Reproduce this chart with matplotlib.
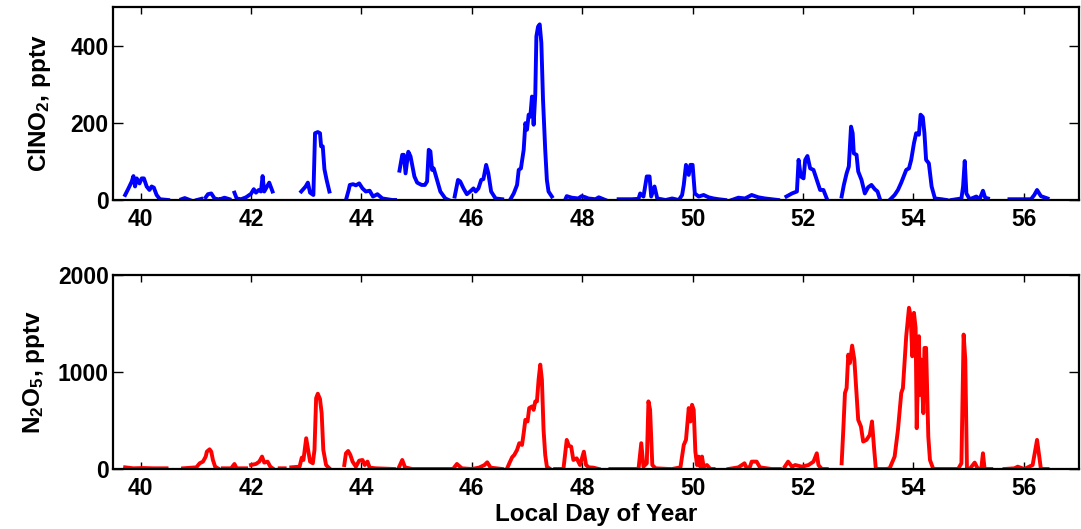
import numpy as np
import matplotlib
matplotlib.use("Agg")
import matplotlib.pyplot as plt

plt.rcParams["font.family"] = ["Liberation Sans", "DejaVu Sans"]
plt.rcParams["font.weight"] = "bold"
plt.rcParams["mathtext.fontset"] = "custom"
plt.rcParams["mathtext.rm"] = "Liberation Sans:bold"
plt.rcParams["mathtext.bf"] = "Liberation Sans:bold"
plt.rcParams["mathtext.it"] = "Liberation Sans:bold"
plt.rcParams["mathtext.default"] = "regular"

nan = np.nan

# ClNO2 mixing ratio (pptv) vs local day of year; NaN marks data gaps
clno2_day = [
    39.72, 39.78, 39.84, 39.87, 39.90, 39.93, 39.98, 40.02, 40.06, 40.11, 40.16, 40.20, 40.24, 40.29, 40.35, 40.50, nan,
    40.74, 40.80, 40.89, nan,
    41.02, 41.10, nan,
    41.18, 41.22, 41.28, 41.34, 41.40, nan,
    41.46, 41.52, 41.61, nan,
    41.70, 41.74, 41.82, 41.91, 42.00, 42.05, 42.09, 42.14, 42.18, 42.21, 42.24, 42.29, 42.33, 42.39, nan,
    42.91, 42.99, 43.03, 43.07, 43.13, 43.16, 43.21, 43.25, 43.27, 43.30, 43.33, 43.37, 43.42, nan,
    43.72, 43.77, 43.79, 43.85, 43.90, 43.96, 44.02, 44.08, 44.15, 44.21, 44.29, 44.38, 44.56, 44.61, nan,
    44.69, 44.74, 44.77, 44.80, 44.85, 44.89, 44.92, 44.96, 45.01, 45.09, 45.15, 45.19, 45.22, 45.25, 45.28, 45.31, 45.37, 45.43, 45.52, 45.58, nan,
    45.69, 45.75, 45.79, 45.85, 45.91, 45.97, 46.03, 46.07, 46.12, 46.17, 46.21, 46.26, 46.30, 46.35, 46.43, 46.55, nan,
    46.70, 46.76, 46.82, 46.85, 46.89, 46.94, 46.97, 47.00, 47.03, 47.06, 47.09, 47.12, 47.15, 47.17, 47.20, 47.23, 47.26, 47.29, 47.33, 47.36, 47.39, 47.45, nan,
    47.69, 47.72, 47.81, 47.93, 47.99, 48.06, 48.11, 48.24, 48.30, 48.42, nan,
    48.66, 48.90, 49.02, 49.05, 49.11, 49.17, 49.22, 49.25, 49.31, 49.36, 49.51, 49.63, 49.75, 49.81, 49.84, 49.88, 49.93, 49.96, 50.00, 50.04, 50.11, 50.20, 50.29, 50.38, 50.47, 50.59, nan,
    50.71, 50.83, 50.95, 51.07, 51.19, 51.31, 51.43, 51.55, nan,
    51.70, 51.80, 51.89, 51.92, 51.96, 52.01, 52.04, 52.08, 52.13, 52.19, 52.25, 52.31, 52.37, 52.43, nan,
    52.70, 52.74, 52.79, 52.83, 52.87, 52.90, 52.92, 52.97, 53.00, 53.06, 53.12, 53.18, 53.24, 53.30, 53.35, 53.39, nan,
    53.57, 53.66, 53.72, 53.78, 53.87, 53.92, 53.96, 54.01, 54.05, 54.10, 54.13, 54.17, 54.20, 54.23, 54.28, 54.33, 54.39, 54.51, 54.60, nan,
    54.69, 54.87, 54.90, 54.93, 54.96, 55.02, 55.14, 55.20, 55.26, 55.30, 55.35, nan,
    55.74, 55.95, 56.13, 56.19, 56.24, 56.31, 56.43,
]
clno2_pptv = [
    13, 30, 48, 62, 35, 56, 43, 56, 56, 35, 26, 35, 32, 13, 2, 0, nan,
    2, 5, 0, nan,
    0, 3, nan,
    7, 15, 17, 4, 2, nan,
    3, 6, 2, nan,
    19, 4, 2, 7, 16, 28, 19, 26, 22, 62, 22, 35, 45, 22, nan,
    22, 35, 45, 19, 13, 173, 176, 173, 139, 139, 80, 52, 22, nan,
    0, 26, 39, 41, 38, 43, 30, 22, 24, 9, 15, 4, 0, 0, nan,
    76, 117, 117, 69, 125, 113, 91, 61, 45, 39, 39, 48, 130, 126, 78, 82, 52, 22, 4, 0, nan,
    9, 52, 48, 30, 15, 22, 30, 22, 30, 52, 54, 91, 69, 22, 4, 2, nan,
    2, 17, 39, 78, 82, 130, 199, 182, 221, 216, 268, 195, 273, 424, 449, 455, 407, 260, 130, 52, 22, 9, nan,
    0, 10, 6, 4, 10, 7, 4, 2, 7, 0, nan,
    2, 2, 3, 17, 9, 61, 61, 9, 35, 4, 0, 4, 0, 13, 39, 91, 65, 91, 91, 17, 9, 13, 7, 4, 2, 0, nan,
    0, 6, 4, 13, 7, 4, 2, 0, nan,
    9, 17, 22, 104, 61, 56, 104, 114, 82, 78, 52, 26, 26, 4, nan,
    9, 39, 69, 87, 190, 173, 121, 117, 74, 52, 17, 33, 39, 28, 22, 4, nan,
    0, 13, 26, 45, 78, 82, 104, 147, 173, 169, 221, 215, 173, 104, 95, 35, 4, 2, 0, nan,
    0, 4, 35, 101, 17, 2, 9, 2, 24, 6, 4, nan,
    2, 2, 2, 13, 26, 10, 4,
]

# N2O5 mixing ratio (pptv) vs local day of year; NaN marks data gaps
n2o5_day = [
    39.72, 39.87, 40.05, 40.23, 40.47, nan,
    40.77, 41.01, 41.07, 41.13, 41.18, 41.20, 41.25, 41.28, 41.31, 41.35, 41.40, nan,
    41.49, 41.64, 41.70, 41.74, 41.91, nan,
    42.00, 42.09, 42.15, 42.20, 42.24, 42.30, 42.35, 42.39, nan,
    42.52, 42.61, nan,
    42.73, 42.88, 42.92, 42.95, 43.00, 43.04, 43.07, 43.12, 43.15, 43.18, 43.21, 43.25, 43.28, 43.31, 43.36, 43.42, nan,
    43.69, 43.72, 43.76, 43.80, 43.84, 43.90, 43.96, 44.02, 44.06, 44.11, 44.15, 44.26, 44.59, nan,
    44.68, 44.74, 44.79, 44.92, 45.28, 45.52, 45.61, nan,
    45.67, 45.73, 45.82, 46.00, 46.13, 46.23, 46.28, 46.34, 46.55, nan,
    46.64, 46.68, 46.73, 46.77, 46.82, 46.86, 46.91, 46.94, 46.97, 47.01, 47.04, 47.09, 47.12, 47.15, 47.18, 47.21, 47.24, 47.27, 47.30, 47.33, 47.36, 47.42, nan,
    47.51, 47.66, 47.72, 47.76, 47.80, 47.84, 47.90, 47.96, 48.03, 48.07, 48.12, 48.20, 48.30, nan,
    48.51, 49.02, 49.07, 49.11, 49.17, 49.20, 49.23, 49.27, 49.33, 49.57, nan,
    49.63, 49.78, 49.84, 49.88, 49.93, 49.96, 49.99, 50.02, 50.05, 50.08, 50.11, 50.14, 50.17, 50.20, 50.26, 50.32, 50.38, nan,
    50.65, 50.83, 50.94, 50.98, 51.04, 51.07, 51.16, 51.22, 51.43, 51.58, nan,
    51.67, 51.73, 51.80, 51.86, 51.98, 52.10, 52.19, 52.25, 52.28, 52.34, 52.43, nan,
    52.70, 52.73, 52.76, 52.79, 52.82, 52.85, 52.89, 52.93, 52.97, 53.00, 53.05, 53.09, 53.15, 53.21, 53.25, 53.29, 53.32, 53.51,
    53.57, 53.66, 53.72, 53.78, 53.81, 53.87, 53.92, 53.95, 53.98, 54.01, 54.04, 54.06, 54.10, 54.12, 54.14, 54.18, 54.20, 54.23, 54.27, 54.30, 54.36,
    54.63, 54.81, 54.87, 54.91, 54.94, 54.97, 55.02, 55.11, 55.17, 55.23, 55.26, 55.29, 55.41, nan,
    55.65, 55.83, 55.89, 56.01, 56.16, 56.24, 56.28, 56.31, 56.43,
]
n2o5_pptv = [
    17, 7, 10, 7, 7, nan,
    7, 17, 59, 76, 128, 179, 203, 179, 93, 24, 7, nan,
    7, 7, 52, 7, 7, nan,
    41, 52, 76, 128, 66, 76, 24, 7, nan,
    7, 7, nan,
    17, 24, 117, 93, 317, 179, 76, 59, 197, 731, 776, 721, 576, 197, 41, 7, nan,
    41, 162, 186, 145, 76, 24, 86, 93, 41, 76, 14, 7, 0, nan,
    17, 93, 17, 0, 0, 0, 0, nan,
    7, 52, 7, 0, 14, 41, 69, 14, 0, nan,
    7, 59, 121, 145, 197, 266, 248, 369, 507, 490, 628, 645, 610, 697, 697, 921, 1076, 921, 403, 145, 24, 0, nan,
    0, 0, 300, 238, 231, 93, 110, 41, 179, 41, 17, 14, 0, nan,
    0, 0, 266, 24, 59, 697, 610, 41, 7, 0, nan,
    0, 17, 248, 300, 628, 490, 662, 610, 179, 41, 128, 24, 128, 24, 41, 0, 0, nan,
    0, 17, 59, 7, 24, 76, 76, 17, 0, 0, nan,
    24, 76, 24, 41, 24, 41, 76, 162, 41, 0, 0, nan,
    59, 403, 783, 834, 1179, 1093, 1272, 1128, 783, 507, 438, 283, 300, 352, 490, 197, 0, 0,
    7, 128, 403, 783, 834, 1369, 1662, 1576, 1162, 1610, 1455, 421, 1369, 765, 1128, 576, 1248, 1248, 334, 93, 0,
    0, 0, 59, 1386, 1128, 0, 0, 66, 0, 7, 162, 0, 0, nan,
    0, 7, 24, 0, 41, 300, 128, 0, 0,
]

day_ticks = list(range(40, 57, 2))
clno2_ticks = [0, 200, 400]
n2o5_ticks = [0, 1000, 2000]

W, H = 1081, 529
fig = plt.figure(figsize=(W / 100, H / 100), dpi=100)
ax1 = fig.add_axes([113 / W, 1 - 200 / H, 966 / W, 193 / H])
ax2 = fig.add_axes([113 / W, 1 - 469 / H, 966 / W, 194 / H])

ax1.plot(clno2_day, clno2_pptv, color="#0000ff", lw=2.8, solid_joinstyle="round")
ax2.plot(n2o5_day, n2o5_pptv, color="#ff0000", lw=2.8, solid_joinstyle="round")

for ax, yt, ylim in ((ax1, clno2_ticks, (0, 500)), (ax2, n2o5_ticks, (0, 2000))):
    ax.set_xlim(39.5, 57)
    ax.set_ylim(*ylim)
    ax.set_xticks(day_ticks)
    ax.set_yticks(yt)
    for s in ax.spines.values():
        s.set_linewidth(1.6)
    ax.tick_params(axis="both", direction="in", top=True, right=True,
                   width=1.0, labelsize=16.5)
    ax.tick_params(axis="x", length=5, pad=6)
    ax.tick_params(axis="y", length=7, pad=3)
    for lab in ax.get_xticklabels() + ax.get_yticklabels():
        lab.set_fontweight("bold")

ax1.set_ylabel(r"ClNO$_2$, pptv", fontsize=17.5, fontweight="bold", labelpad=13)
ax2.set_ylabel(r"N$_2$O$_5$, pptv", fontsize=17.5, fontweight="bold", labelpad=8)
ax2.set_xlabel("Local Day of Year", fontsize=17.5, fontweight="bold", labelpad=2)

fig.savefig("out.png", dpi=100)
